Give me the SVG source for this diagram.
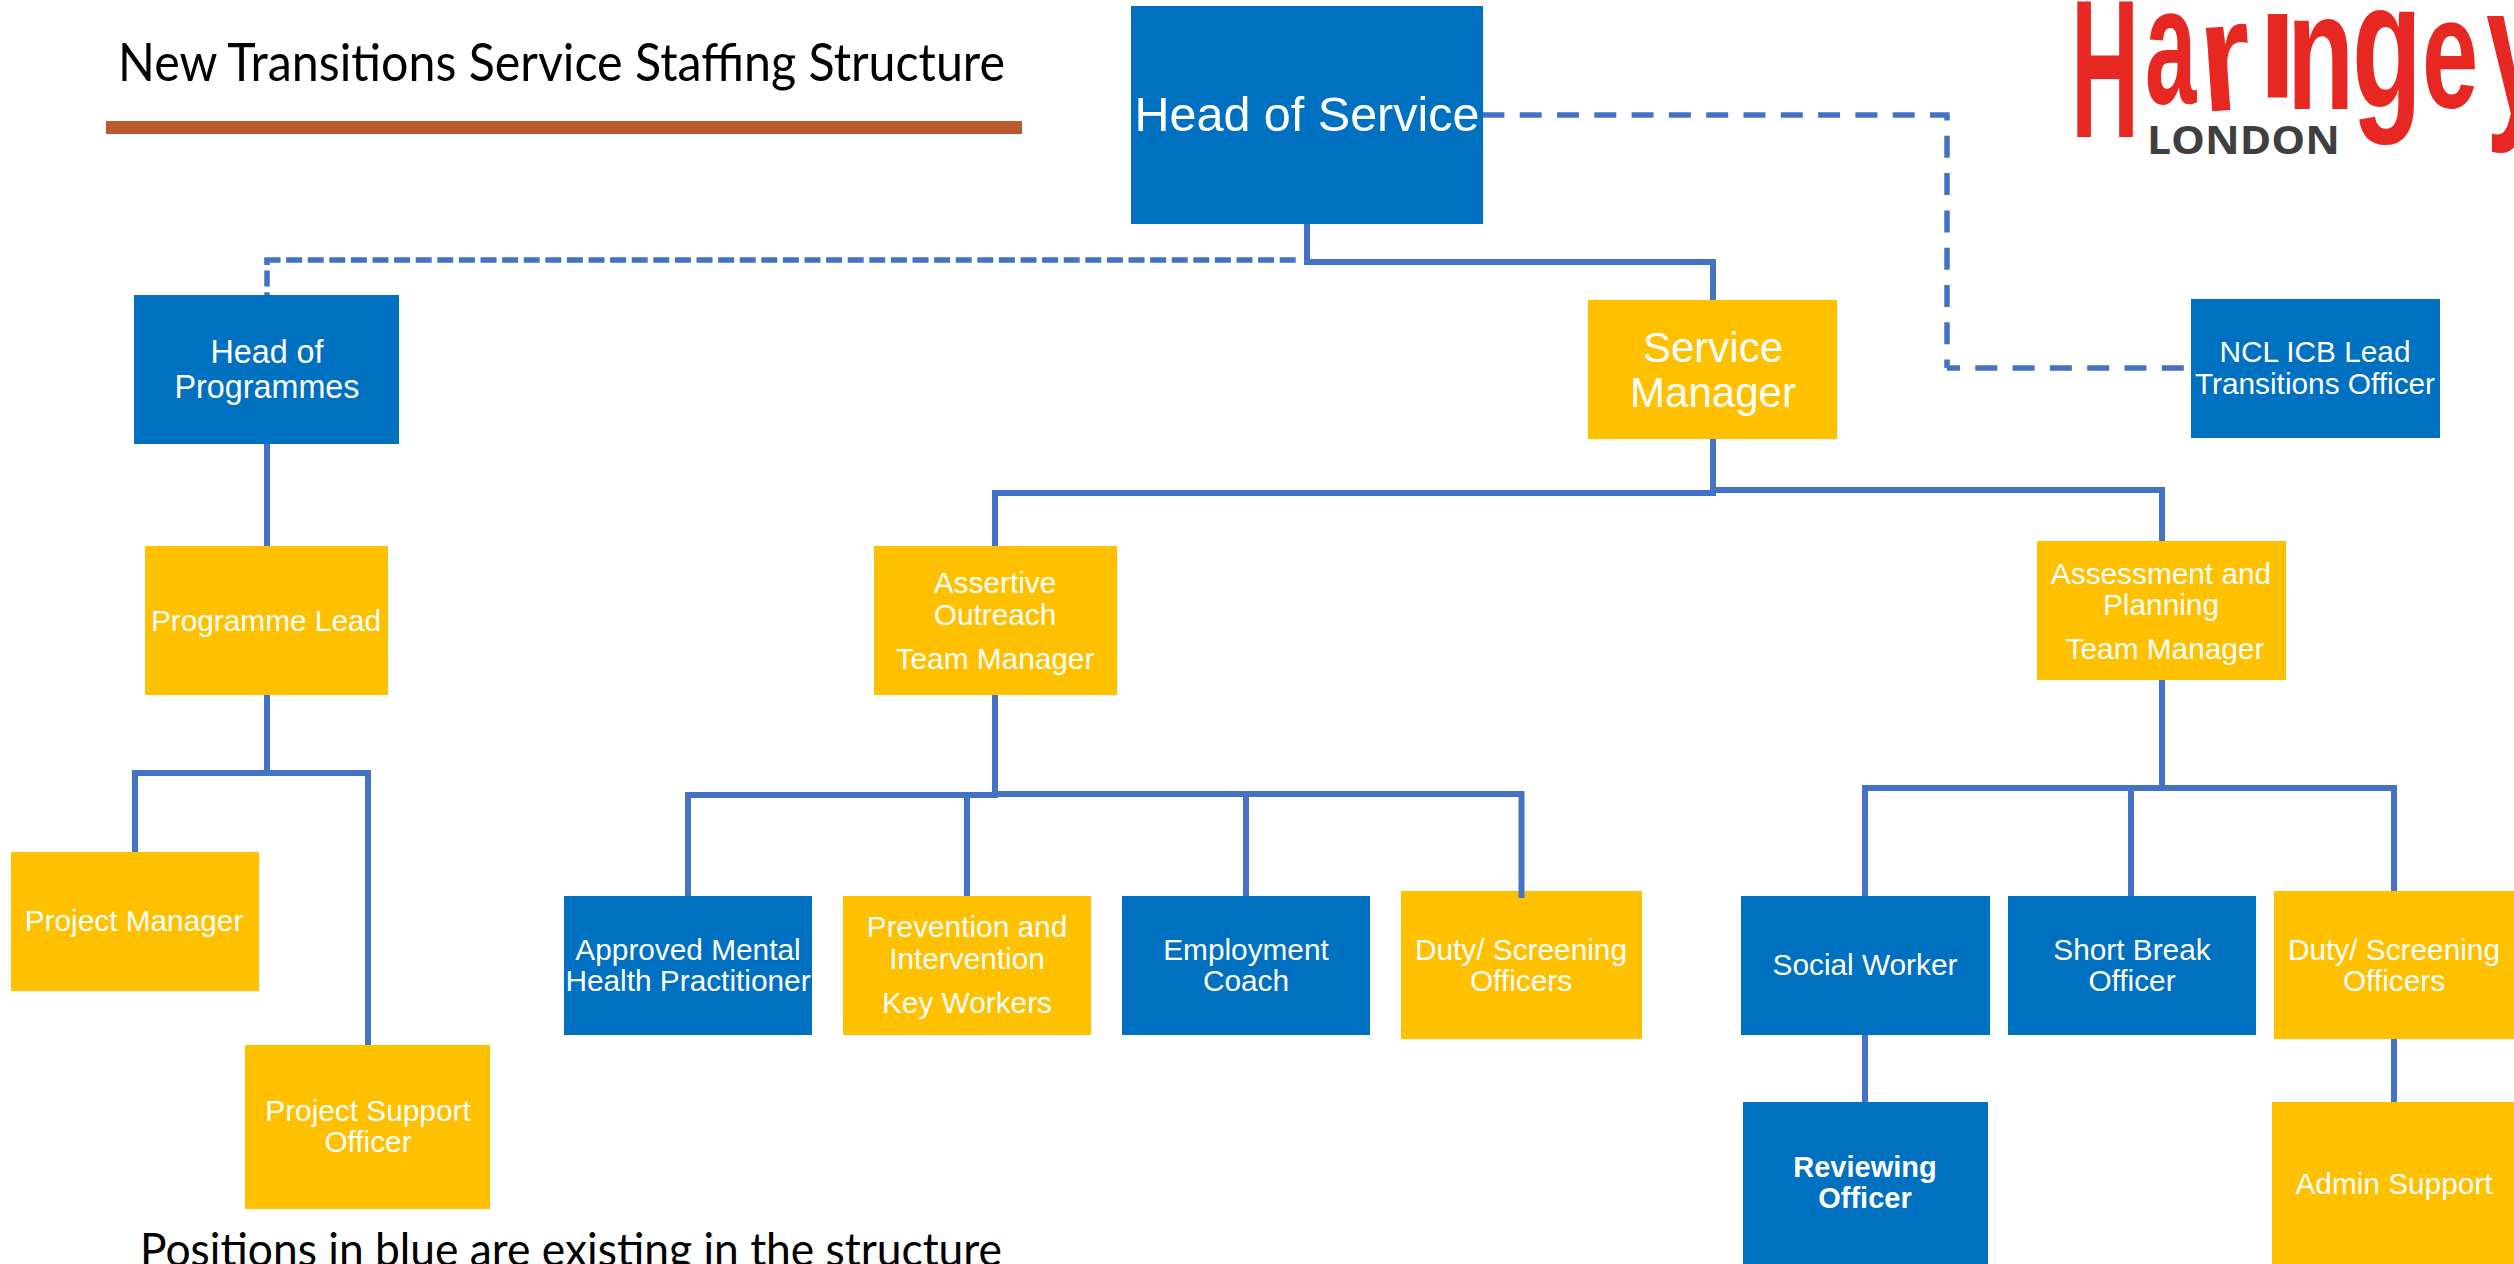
<svg xmlns="http://www.w3.org/2000/svg" width="2514" height="1264" viewBox="0 0 2514 1264">
<style>
.b{fill:#0070c0}.y{fill:#ffc000}
text{font-family:"Liberation Sans",Arial,sans-serif;fill:#fff;text-anchor:middle}
.t30{font-size:29.8px}.t32{font-size:32.3px}.t42{font-size:42px}.t48{font-size:48.5px}
.c{fill:none;stroke:#4472c4;stroke-width:6}
.d1{stroke-width:5.5;stroke-dasharray:16 5.6}.d2{stroke-width:5.5;stroke-dasharray:22 15.3}
.ti{font-family:Lato,"Noto Sans",sans-serif;font-weight:400;fill:#000;text-anchor:start}
.h{font-family:"Liberation Sans",sans-serif;font-weight:700;fill:#e62722;text-anchor:start}
</style>
<rect width="2514" height="1264" fill="#fff"/>
<g id="title">
<text class="ti" x="118" y="81" font-size="52" textLength="887" lengthAdjust="spacingAndGlyphs">New Transitions Service Staffing Structure</text>
<rect x="106" y="121" width="916" height="13" fill="#bb5a2d"/>
</g>
<g id="logo">
<text class="h" transform="translate(2071 137) scale(1.15 2.4)" font-size="82">H</text>
<text class="h" transform="translate(2145 103) scale(1.05 1.9)" font-size="88">a</text>
<text class="h" transform="translate(2203 112) rotate(-4) scale(1.5 1.8)" font-size="88">r</text>
<text class="h" transform="translate(2258 97) scale(1.6 1.8)" font-size="88">i</text>
<text class="h" transform="translate(2287 109) scale(1.25 1.9)" font-size="88">n</text>
<text class="h" transform="translate(2352 107) scale(1.3 2.05)" font-size="88">g</text>
<text class="h" transform="translate(2422 107) scale(1.15 1.8)" font-size="88">e</text>
<text class="h" transform="translate(2486 114) scale(1.3 2.1)" font-size="88">y</text>
<text x="2147" y="154" font-size="40" textLength="193" lengthAdjust="spacingAndGlyphs" style="font-family:'Open Sans',sans-serif;font-weight:700;fill:#3f3f3f;text-anchor:start">LONDON</text>
</g>
<g id="head-of-service"><rect class="b" x="1131" y="6" width="352" height="218"/><text class="t48" x="1307" y="131">Head of Service</text></g>
<g id="head-of-programmes"><rect class="b" x="134" y="295" width="265" height="149"/><text class="t32" x="267" y="363">Head of</text><text class="t32" x="267" y="398">Programmes</text></g>
<g id="service-manager"><rect class="y" x="1588" y="300" width="249" height="139"/><text class="t42" x="1713" y="362">Service</text><text class="t42" x="1713" y="407">Manager</text></g>
<g id="ncl-icb-lead"><rect class="b" x="2191" y="299" width="249" height="139"/><text class="t30" x="2315" y="362">NCL ICB Lead</text><text class="t30" x="2315" y="394">Transitions Officer</text></g>
<g id="programme-lead"><rect class="y" x="145" y="546" width="243" height="149"/><text class="t30" x="266" y="631">Programme Lead</text></g>
<g id="assertive-outreach"><rect class="y" x="874" y="546" width="243" height="149"/><text class="t30" x="995" y="593">Assertive</text><text class="t30" x="995" y="625">Outreach</text><text class="t30" x="995" y="669">Team Manager</text></g>
<g id="assessment-planning"><rect class="y" x="2037" y="541" width="249" height="139"/><text class="t30" x="2161" y="584">Assessment and</text><text class="t30" x="2161" y="615">Planning</text><text class="t30" x="2165" y="659">Team Manager</text></g>
<g id="project-manager"><rect class="y" x="11" y="852" width="248" height="139"/><text class="t30" x="134" y="931">Project Manager</text></g>
<g id="project-support"><rect class="y" x="245" y="1045" width="245" height="164"/><text class="t30" x="368" y="1121">Project Support</text><text class="t30" x="368" y="1152">Officer</text></g>
<g id="amhp"><rect class="b" x="564" y="896" width="248" height="139"/><text class="t30" x="688" y="960">Approved Mental</text><text class="t30" x="688" y="991">Health Practitioner</text></g>
<g id="prevention"><rect class="y" x="843" y="896" width="248" height="139"/><text class="t30" x="967" y="937">Prevention and</text><text class="t30" x="967" y="969">Intervention</text><text class="t30" x="967" y="1013">Key Workers</text></g>
<g id="employment-coach"><rect class="b" x="1122" y="896" width="248" height="139"/><text class="t30" x="1246" y="960">Employment</text><text class="t30" x="1246" y="991">Coach</text></g>
<g id="duty-1"><rect class="y" x="1401" y="891" width="241" height="148"/><text class="t30" x="1521" y="960">Duty/ Screening</text><text class="t30" x="1521" y="991">Officers</text></g>
<g id="social-worker"><rect class="b" x="1741" y="896" width="249" height="139"/><text class="t30" x="1865" y="975">Social Worker</text></g>
<g id="short-break"><rect class="b" x="2008" y="896" width="248" height="139"/><text class="t30" x="2132" y="960">Short Break</text><text class="t30" x="2132" y="991">Officer</text></g>
<g id="duty-2"><rect class="y" x="2274" y="891" width="240" height="148"/><text class="t30" x="2394" y="960">Duty/ Screening</text><text class="t30" x="2394" y="991">Officers</text></g>
<g id="reviewing"><rect class="b" x="1743" y="1102" width="245" height="162"/><text x="1865" y="1177" font-size="29" font-weight="700">Reviewing</text><text x="1865" y="1208" font-size="29" font-weight="700">Officer</text></g>
<g id="admin-support"><rect class="y" x="2272" y="1102" width="242" height="162"/><text class="t30" x="2394" y="1194">Admin Support</text></g>
<g id="note"><text class="ti" x="140" y="1266" font-size="46" textLength="862" lengthAdjust="spacingAndGlyphs">Positions in blue are existing in the structure</text></g>
<g id="connectors">
<path class="c" d="M1307 224V262H1716M1713 259V300"/>
<path class="c d1" d="M264.5 260H1301"/>
<path class="c d1" d="M267 258V295" stroke-dashoffset="9"/>
<path class="c d2" d="M1949.5 115H1483" stroke-dashoffset="2.5"/>
<path class="c d2" d="M1947 115V368" stroke-dashoffset="16.5"/>
<path class="c d2" d="M1947 368H2191" stroke-dashoffset="9"/>
<path class="c" d="M267 444V546"/>
<path class="c" d="M267 695V773"/>
<path class="c" d="M135 852V773H368V1045"/>
<path class="c" d="M1713 439V490"/>
<path class="c" d="M995 546V493H1716"/>
<path class="c" d="M1713 490H2162V541"/>
<path class="c" d="M995 695V794"/>
<path class="c" d="M688 896V795H998"/>
<path class="c" d="M967 896V795"/>
<path class="c" d="M995 794H1521.5V898"/>
<path class="c" d="M1246 794V896"/>
<path class="c" d="M2162 680V788"/>
<path class="c" d="M1865 896V788H2394V891"/>
<path class="c" d="M2131 788V896"/>
<path class="c" d="M1865 1035V1102"/>
<path class="c" d="M2394 1039V1102"/>
</g>
</svg>
